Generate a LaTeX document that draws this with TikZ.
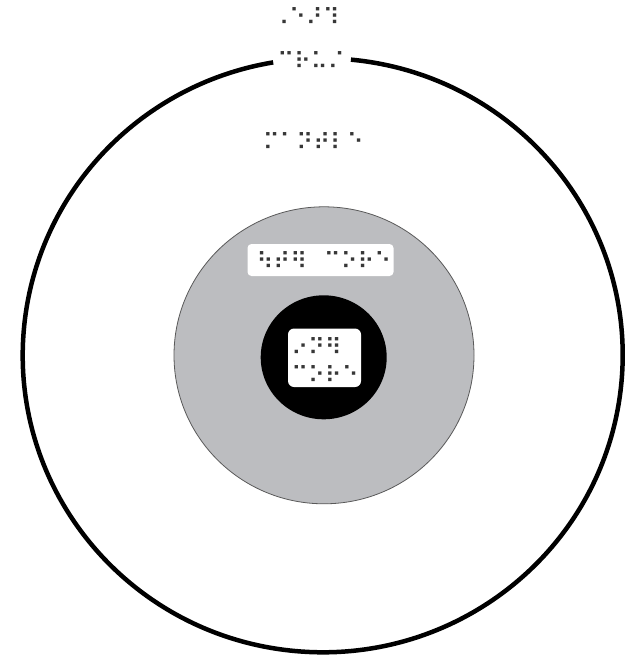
\documentclass[tikz,border=0pt]{standalone}
\usepackage{fontspec}
\newfontfamily\brl{DejaVu Sans}
\definecolor{discgray}{RGB}{188,189,192}
\definecolor{dotcol}{RGB}{55,55,55}
\begin{document}
\begin{tikzpicture}[x=1pt,y=-1pt,
  brltext/.style={font=\brl\fontsize{23}{27.3}\selectfont, text=dotcol, inner sep=0pt, anchor=center, align=left},
  panel/.style={fill=white, draw=none}]
\useasboundingbox (0,0) rectangle (631,658);
% outer boundary (Earth) with gap at the top
\coordinate (ctr) at (322.7,355.3);
\draw[line width=4.5pt] (ctr) ++(-84.6:300 and 297) arc[start angle=-84.6, end angle=260.5, x radius=300, y radius=297];
% mantle / outer core disc
\draw[fill=discgray, draw=black!65, line width=0.8pt] (324,355.3) ellipse[x radius=150, y radius=148.5];
% inner core
\fill[black] (323.7,357.3) ellipse[x radius=63, y radius=62];
% label panels
\draw[panel, rounded corners=4pt] (247.5,244) rectangle (393.5,276);
\draw[panel, rounded corners=6pt] (288,328.5) rectangle (361,387);
% braille labels
\node[brltext] (earth) at (306,17) {⠠⠑⠜⠹};
\node[brltext] (crust) at (311,60.5) {⠉⠗⠥⠌};
\node[brltext] (mantle) at (313.3,142) {⠍⠁⠝⠞⠇⠑};
\node[brltext] (outercore) at (324,261) {⠳⠞⠻⠀⠉⠕⠗⠑};
\node[brltext] (innercore) at (325,360.5) {⠔⠝⠻\\⠉⠕⠗⠑};
\end{tikzpicture}
\end{document}
